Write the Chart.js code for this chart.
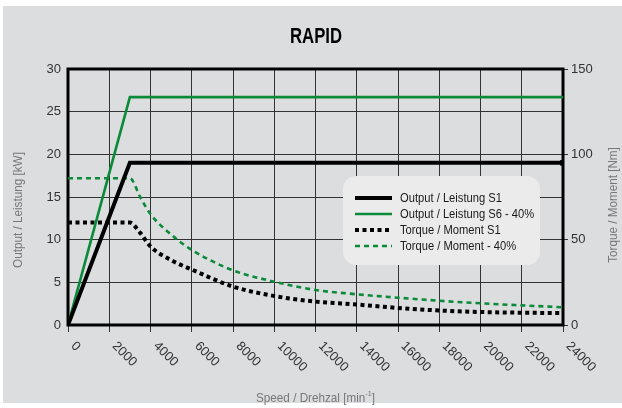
<!DOCTYPE html>
<html>
<head>
<meta charset="utf-8">
<script src="https://cdn.jsdelivr.net/npm/chart.js@4"></script>
<style>
  html, body { margin: 0; padding: 0; background: #fff; }
  #wrap { position: relative; width: 622px; height: 408px; }
  #bg { position: absolute; left: 3px; top: 6px; width: 619px; height: 397px; background: #dcdddf; }
  canvas { position: absolute; left: 0; top: 0; }
</style>
</head>
<body>
<div id="wrap">
  <div id="bg"></div>
  <canvas id="chart" width="622" height="408"></canvas>
</div>
<script>
const sans = "'Liberation Sans', Arial, sans-serif";

// speed axis [min-1]
const speedTicks = [0, 2000, 4000, 6000, 8000, 10000, 12000, 14000, 16000, 18000, 20000, 22000, 24000];

// power curves [kW]
const powerSpeeds = [0, 3000, 24000];
const powerS1 = [0, 19, 19];
const powerS6 = [0, 26.7, 26.7];

// torque curves [Nm]
const torqueSpeeds = [0, 3000, 3500, 4000, 5000, 6000, 8000, 10000, 12000, 14000, 16000, 18000, 20000, 22000, 24000];
const torqueS1 = [60, 60, 54, 46, 38, 32.5, 22.5, 17, 13.7, 12, 10, 8.5, 7.6, 7.2, 7];
const torqueS6 = [86, 86, 75, 65, 53, 44, 32, 25.4, 20.5, 18, 16, 14.2, 12.7, 11.5, 10.4];

const labels = ["Output / Leistung S1", "Output / Leistung S6 - 40%", "Torque / Moment S1", "Torque / Moment - 40%"];

const green = "#0b8a3a";

function pairs(xs, ys) {
  return xs.map((x, i) => ({ x: x, y: ys[i] }));
}

// draws text squeezed horizontally, to look like a condensed face
function narrowText(ctx, x, y, rot, factor, align, parts) {
  let total = 0;
  parts.forEach(p => { ctx.font = p.font; p.w = ctx.measureText(p.text).width; total += p.w; });
  ctx.save();
  ctx.translate(x, y);
  ctx.rotate(rot);
  ctx.scale(factor, 1);
  ctx.textAlign = "left";
  ctx.textBaseline = "middle";
  let cx = align === "center" ? -total / 2 : 0;
  parts.forEach(p => {
    ctx.font = p.font;
    ctx.fillText(p.text, cx, p.dy || 0);
    cx += p.w;
  });
  ctx.restore();
}

const extras = {
  id: "extras",
  beforeDatasetsDraw(chart) {
    const { ctx, chartArea: a } = chart;
    ctx.save();
    ctx.strokeStyle = "#000";
    ctx.lineWidth = 3;
    ctx.strokeRect(a.left, a.top, a.right - a.left, a.bottom - a.top);
    ctx.restore();
  },
  afterDraw(chart) {
    const { ctx, chartArea: a } = chart;
    const xs = chart.scales.x;
    const midX = (a.left + a.right) / 2;

    // x tick labels, rotated down to the right
    ctx.save();
    ctx.fillStyle = "#333";
    ctx.font = "13px " + sans;
    ctx.textAlign = "left";
    ctx.textBaseline = "middle";
    speedTicks.forEach(v => {
      const px = xs.getPixelForValue(v);
      ctx.save();
      ctx.translate(px + 5, a.bottom + 19);
      ctx.rotate(Math.PI / 4);
      ctx.fillText(String(v), 0, 0);
      ctx.restore();
    });
    ctx.restore();

    // title
    ctx.fillStyle = "#000";
    narrowText(ctx, 316, 37, 0, 0.76, "center", [{ text: "RAPID", font: "bold 22px " + sans }]);

    // axis titles
    ctx.fillStyle = "#777";
    const tf = "13px " + sans;
    narrowText(ctx, 18, 210, -Math.PI / 2, 0.9, "center", [{ text: "Output / Leistung [kW]", font: tf }]);
    narrowText(ctx, 613, 205, -Math.PI / 2, 0.9, "center", [{ text: "Torque / Moment [Nm]", font: tf }]);
    narrowText(ctx, midX, 398, 0, 0.9, "center", [
      { text: "Speed / Drehzal [min", font: tf },
      { text: "-1", font: "8px " + sans, dy: -4 },
      { text: "]", font: tf }
    ]);

    // legend
    ctx.save();
    ctx.fillStyle = "#ebebeb";
    ctx.beginPath();
    ctx.roundRect(343, 176, 197, 89, 13);
    ctx.fill();
    chart.data.datasets.forEach((ds, i) => {
      const y = 198 + i * 16;
      ctx.save();
      ctx.strokeStyle = ds.borderColor;
      ctx.lineWidth = ds.borderWidth;
      ctx.setLineDash(ds.borderDash || []);
      ctx.beginPath();
      ctx.moveTo(355, y);
      ctx.lineTo(392, y);
      ctx.stroke();
      ctx.restore();
      ctx.fillStyle = "#1a1a1a";
      narrowText(ctx, 400, y, 0, 0.86, "left", [{ text: ds.label, font: "13px " + sans }]);
    });
    ctx.restore();
  }
};

new Chart(document.getElementById("chart"), {
  type: "line",
  data: {
    datasets: [
      {
        label: labels[0],
        data: pairs(powerSpeeds, powerS1),
        yAxisID: "y",
        borderColor: "#000",
        backgroundColor: "#000",
        borderWidth: 4,
        pointStyle: "rect",
        pointRadius: [0, 0, 4],
        pointBackgroundColor: "#000",
        pointBorderWidth: 0
      },
      {
        label: labels[1],
        data: pairs(powerSpeeds, powerS6),
        yAxisID: "y",
        borderColor: green,
        borderWidth: 2.6,
        pointRadius: 0
      },
      {
        label: labels[2],
        data: pairs(torqueSpeeds, torqueS1),
        yAxisID: "y1",
        borderColor: "#000",
        borderWidth: 4,
        borderDash: [4, 3.5],
        pointRadius: 0,
        cubicInterpolationMode: "monotone"
      },
      {
        label: labels[3],
        data: pairs(torqueSpeeds, torqueS6),
        yAxisID: "y1",
        borderColor: green,
        borderWidth: 2.6,
        borderDash: [5, 4],
        pointRadius: 0,
        cubicInterpolationMode: "monotone"
      }
    ]
  },
  options: {
    responsive: false,
    animation: false,
    devicePixelRatio: 1,
    layout: { padding: { top: 69, left: 0, right: 0, bottom: 0 } },
    plugins: {
      legend: { display: false },
      tooltip: { enabled: false },
      title: { display: false }
    },
    scales: {
      x: {
        type: "linear",
        min: 0,
        max: 24000,
        ticks: { stepSize: 2000, display: false },
        grid: { color: "#333", lineWidth: 1, tickLength: 7 },
        border: { display: false },
        afterFit: s => { s.height = 83; }
      },
      y: {
        position: "left",
        min: 0,
        max: 30,
        ticks: { stepSize: 5, padding: 7, color: "#333", font: { family: sans, size: 13 } },
        grid: { color: "#333", lineWidth: 1, drawTicks: false },
        border: { display: false },
        afterFit: s => { s.width = 68; }
      },
      y1: {
        position: "right",
        min: 0,
        max: 150,
        ticks: { stepSize: 50, padding: 3, color: "#333", font: { family: sans, size: 13 } },
        grid: { drawOnChartArea: false, color: "#333", tickLength: 5 },
        border: { display: false },
        afterFit: s => { s.width = 59; }
      }
    }
  },
  plugins: [extras]
});
</script>
</body>
</html>
